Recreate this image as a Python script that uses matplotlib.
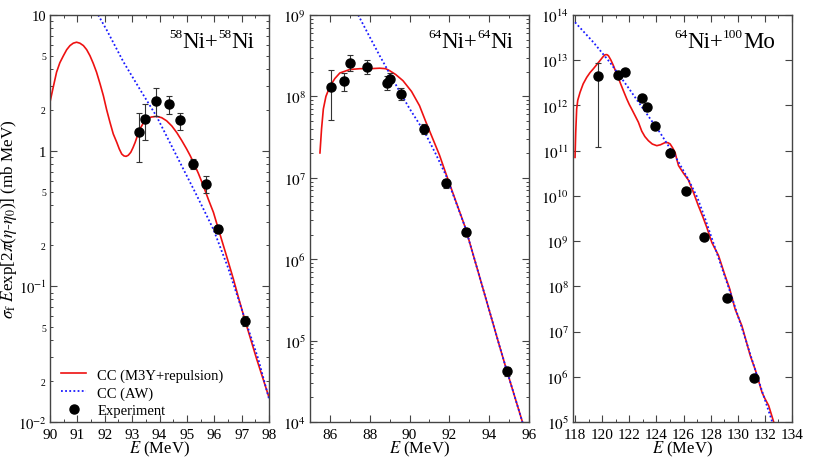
import numpy as np
import matplotlib
matplotlib.use("Agg")
import matplotlib.pyplot as plt
from matplotlib.lines import Line2D

plt.rcParams['font.family'] = ['Liberation Serif', 'DejaVu Serif']
plt.rcParams['mathtext.fontset'] = 'stix'

# ---------------- Panel 1: 58Ni+58Ni ----------------
p1_red_E = [90.0, 90.12, 90.24, 90.36, 90.49, 90.61, 90.73, 90.85, 90.97, 91.09, 91.22, 91.34,
            91.46, 91.58, 91.70, 91.83, 91.95, 92.07, 92.19, 92.31, 92.44, 92.53, 92.62, 92.70,
            92.78, 92.86, 92.95, 93.03, 93.11, 93.20, 93.29, 93.41, 93.53, 93.70, 93.90, 94.08,
            94.26, 94.45, 94.63, 94.81, 94.99, 95.12, 95.24, 95.42, 95.60, 95.78, 95.97, 96.15,
            96.42, 96.70, 96.90, 97.11, 97.33, 97.55, 97.78, 98.0]
p1_red_y = [2.28, 2.95, 3.79, 4.45, 5.01, 5.55, 5.95, 6.20, 6.30, 6.20, 5.95, 5.55,
            5.01, 4.40, 3.79, 3.10, 2.54, 2.00, 1.62, 1.33, 1.15, 1.03, 0.945, 0.915,
            0.908, 0.925, 0.972, 1.05, 1.15, 1.30, 1.45, 1.60, 1.71, 1.77, 1.79, 1.75,
            1.66, 1.52, 1.36, 1.19, 1.03, 0.92, 0.82, 0.68, 0.552, 0.44, 0.351, 0.265,
            0.175, 0.113, 0.0805, 0.0574, 0.0408, 0.0291, 0.0209, 0.0152]
p1_blue_E = [91.76, 92.07, 92.68, 93.29, 93.90, 94.63, 95.36, 95.97, 96.50, 97.12, 97.60, 98.0]
p1_blue_y = [10.0, 7.76, 4.52, 2.82, 1.78, 0.912, 0.468, 0.263, 0.138, 0.0575, 0.0295, 0.0148]
p1_exp_E = [93.26, 93.46, 93.87, 94.34, 94.76, 95.21, 95.69, 96.15, 97.11]
p1_exp_y = [1.38, 1.70, 2.31, 2.22, 1.67, 0.80, 0.57, 0.265, 0.0556]
p1_exp_lo = [0.82, 1.19, 1.79, 1.86, 1.42, 0.73, 0.485, 0.248, 0.0510]
p1_exp_hi = [1.88, 2.20, 2.88, 2.54, 1.90, 0.87, 0.65, 0.283, 0.0605]

# ---------------- Panel 2: 64Ni+64Ni ----------------
p2_red_E = [85.5, 85.58, 85.67, 85.8, 86.0, 86.25, 86.5, 87.0, 87.5, 88.0, 88.5, 88.8, 89.0,
            89.3, 89.67, 90.1, 90.5, 90.83, 91.5, 91.83, 92.8, 93.5, 94.5, 94.885, 95.67]
p2_red_y = [2.02e7, 3.98e7, 7.0e7, 1.0e8, 1.33e8, 1.66e8, 1.94e8, 2.14e8, 2.19e8, 2.19e8,
            2.22e8, 2.19e8, 2.07e8, 1.86e8, 1.56e8, 1.15e8, 7.69e7, 4.79e7, 1.91e7, 1.12e7,
            2.45e6, 6.3e5, 8.9e4, 4.27e4, 1.0e4]
p2_blue_E = [87.42, 88.0, 88.5, 89.0, 89.5, 90.0, 90.78, 91.3, 91.83, 92.8, 93.5, 94.5, 94.885, 95.67]
p2_blue_y = [1.0e9, 5.37e8, 3.16e8, 1.91e8, 1.15e8, 7.08e7, 3.55e7, 2.0e7, 1.07e7, 2.45e6,
             6.3e5, 8.9e4, 4.27e4, 1.0e4]
p2_exp_E = [86.03, 86.73, 87.02, 87.88, 88.87, 89.0, 89.57, 90.75, 91.83, 92.83, 94.885]
p2_exp_y = [1.29e8, 1.55e8, 2.55e8, 2.32e8, 1.45e8, 1.64e8, 1.07e8, 4.0e7, 8.6e6, 2.18e6, 4.2e4]
p2_exp_lo = [5.06e7, 1.17e8, 2.04e8, 1.88e8, 1.21e8, 1.48e8, 9.1e7, 3.47e7, 7.5e6, 1.95e6, 3.7e4]
p2_exp_hi = [2.13e8, 1.94e8, 3.2e8, 2.8e8, 1.77e8, 1.94e8, 1.26e8, 4.57e7, 9.8e6, 2.45e6, 4.7e4]

# ---------------- Panel 3: 64Ni+100Mo ----------------
p3_red_E = [118.0, 118.05, 118.12, 118.2, 118.37, 118.6, 118.86, 119.1, 119.35, 119.6, 119.84,
            120.05, 120.21, 120.35, 120.46, 120.65, 120.83, 121.07, 121.32, 121.57, 121.82,
            122.0, 122.18, 122.42, 122.67, 122.92, 123.15, 123.41, 123.7, 124.03, 124.3, 124.64,
            124.85, 125.01, 125.2, 125.38, 125.5, 125.63, 126.0, 126.36, 126.7, 127.1, 127.4,
            127.72, 128.09, 128.58, 129.07, 129.4, 129.81, 130.3, 130.6, 130.92, 131.3, 131.79,
            132.0, 132.28, 132.65]
p3_red_y = [7.1e10, 2.5e11, 8.3e11, 1.3e12, 1.95e12, 3.0e12, 4.17e12, 5.3e12, 6.46e12, 8.0e12,
            9.8e12, 1.18e13, 1.32e13, 1.33e13, 1.26e13, 1.0e13, 7.6e12, 5.0e12, 3.24e12, 2.1e12,
            1.38e12, 1.05e12, 8.3e11, 6.0e11, 4.27e11, 2.7e11, 2.05e11, 1.66e11, 1.4e11, 1.29e11,
            1.35e11, 1.51e11, 1.5e11, 1.41e11, 1.15e11, 9.1e10, 6.5e10, 4.68e10, 3.16e10, 2.24e10,
            1.26e10, 6.0e9, 3.6e9, 2.0e9, 9.3e8, 4.8e8, 1.7e8, 8.9e7, 3.1e7, 1.35e7, 6.5e6,
            2.95e6, 1.41e6, 4.5e5, 3.3e5, 2.3e5, 1.0e5]
p3_blue_E = [118.0, 119.35, 120.58, 121.82, 123.04, 124.27, 125.51, 126.36, 127.0, 127.6,
             128.5, 129.5, 130.5, 131.5, 132.6]
p3_blue_y = [6.9e13, 2.5e13, 8.9e12, 2.75e12, 8.3e11, 2.5e11, 6.5e10, 2.3e10, 9.5e9, 3.1e9,
             5.0e8, 6.6e7, 7.9e6, 8.9e5, 8.9e4]
p3_exp_E = [119.72, 121.2, 121.69, 122.92, 123.32, 123.88, 124.99, 126.17, 127.5, 129.2, 131.17]
p3_exp_y = [4.4e12, 4.6e12, 5.6e12, 1.48e12, 9.1e11, 3.6e11, 8.9e10, 1.28e10, 1.22e9, 5.5e7, 9.6e5]
p3_err_E = [119.72]
p3_err_y = [4.4e12]
p3_err_lo = [1.22e11]
p3_err_hi = [8.9e12]

# title pieces: (text, is_superscript)
titles = [[('58', True), ('Ni+', False), ('58', True), ('Ni', False)],
          [('64', True), ('Ni+', False), ('64', True), ('Ni', False)],
          [('64', True), ('Ni+', False), ('100', True), ('Mo', False)]]
legend_labels = ['CC (M3Y+repulsion)', 'CC (AW)', 'Experiment']

RED = '#ee1111'
BLUE = '#1a1aff'
FRAME = '#444444'

fig = plt.figure(figsize=(8.3, 4.6), dpi=100)
W, H = 830.0, 460.0
bottom = 37 / H
height = 407 / H
width = 219 / W
ax1 = fig.add_axes([50 / W, bottom, width, height])
ax2 = fig.add_axes([310 / W, bottom, width, height])
ax3 = fig.add_axes([573 / W, bottom, width, height])


def style(ax):
    ax.set_yscale('log')
    for s in ax.spines.values():
        s.set_color(FRAME)
        s.set_linewidth(1.0)
    ax.tick_params(which='both', direction='in', top=True, right=True, color=FRAME,
                   labelsize=11)
    ax.tick_params(axis='x', which='both', pad=4)
    ax.tick_params(axis='y', which='both', pad=3)
    ax.tick_params(which='major', length=5, width=0.8)
    ax.tick_params(which='minor', length=2.5, width=0.7)
    ax.set_xlabel(r'$E$ (MeV)', fontsize=12, labelpad=-1)


def errs(y, lo, hi):
    y = np.asarray(y)
    return [y - np.asarray(lo), np.asarray(hi) - y]


# Panel 1
style(ax1)
ax1.plot(p1_red_E, p1_red_y, color=RED, lw=1.2)
ax1.plot(p1_blue_E, p1_blue_y, color=BLUE, lw=1.3, ls=(0, (1, 1.3)))
ax1.errorbar(p1_exp_E, p1_exp_y, yerr=errs(p1_exp_y, p1_exp_lo, p1_exp_hi), fmt='o',
             color='black', ms=6.5, ecolor='#333333', elinewidth=0.8, capsize=2.5, capthick=0.8)
ax1.set_xlim(90, 98)
ax1.set_ylim(1e-2, 10)
ax1.set_xticks(np.arange(90, 99, 1))
ax1.set_xticks(np.arange(90.5, 98, 1), minor=True)
ax1.set_yticks([1e-2, 1e-1, 1, 10], [r'$10^{-2}$', r'$10^{-1}$', '1', '10'])
minor_pos, minor_lab = [], []
for dec in [1e-2, 1e-1, 1]:
    for m in range(2, 10):
        minor_pos.append(m * dec)
        minor_lab.append(str(m) if m in (2, 5) else '')
ax1.set_yticks(minor_pos, minor_lab, minor=True)
ax1.tick_params(axis='y', which='major', labelsize=10.5, pad=2.5)
ax1.tick_params(axis='y', which='minor', labelsize=7)
ax1.set_ylabel(r'$\sigma_{\rm f}$ $E$exp[2$\pi$($\eta$-$\eta_0$)] (mb MeV)', fontsize=12.3)
ax1.yaxis.set_label_coords(-0.143, 0.5)

handles = [Line2D([], [], color=RED, lw=1.2),
           Line2D([], [], color=BLUE, lw=1.3, ls=(0, (1, 1.3))),
           Line2D([], [], color='black', marker='o', ls='none', ms=6.5)]
ax1.legend(handles, legend_labels, loc='lower left', bbox_to_anchor=(0.05, 0.012),
           frameon=False, fontsize=10.5, handlelength=1.75, handletextpad=0.75,
           labelspacing=0.3, borderpad=0.0, borderaxespad=0.0)

# Panel 2
style(ax2)
ax2.plot(p2_red_E, p2_red_y, color=RED, lw=1.2)
ax2.plot(p2_blue_E, p2_blue_y, color=BLUE, lw=1.3, ls=(0, (1, 1.3)))
ax2.errorbar(p2_exp_E, p2_exp_y, yerr=errs(p2_exp_y, p2_exp_lo, p2_exp_hi), fmt='o',
             color='black', ms=6.5, ecolor='#333333', elinewidth=0.8, capsize=2.5, capthick=0.8)
ax2.set_xlim(85, 96)
ax2.set_ylim(1e4, 1e9)
ax2.set_xticks(np.arange(86, 97, 2))
ax2.set_xticks(np.arange(85, 97, 1), minor=True)
ax2.set_yticks([10.0 ** k for k in range(4, 10)], [r'$10^{%d}$' % k for k in range(4, 10)])

# Panel 3
style(ax3)
ax3.plot(p3_red_E, p3_red_y, color=RED, lw=1.2)
ax3.plot(p3_blue_E, p3_blue_y, color=BLUE, lw=1.3, ls=(0, (1, 1.3)))
ax3.errorbar(p3_err_E, p3_err_y, yerr=errs(p3_err_y, p3_err_lo, p3_err_hi), fmt='none',
             ecolor='#333333', elinewidth=0.8, capsize=2.5, capthick=0.8)
ax3.plot(p3_exp_E, p3_exp_y, 'o', color='black', ms=6.5)
ax3.set_xlim(117.85, 134)
ax3.set_ylim(1e5, 1e14)
ax3.set_xticks(np.arange(118, 135, 2))
ax3.set_xticks(np.arange(119, 134, 2), minor=True)
ax3.set_yticks([10.0 ** k for k in range(5, 15)], [r'$10^{%d}$' % k for k in range(5, 15)])

# Titles with small superscripts, placed piece by piece
fig.canvas.draw()
renderer = fig.canvas.get_renderer()
title_right_px = [254, 513, 775]
base_px = H - 48.5
for pieces, xr in zip(titles, title_right_px):
    objs = []
    for s, sup in pieces:
        t = fig.text(0, 0, s, fontsize=9.5 if sup else 16.5, ha='left', va='baseline')
        w = t.get_window_extent(renderer).width
        objs.append((t, w, sup))
    x = xr - sum(o[1] for o in objs)
    for t, w, sup in objs:
        t.set_position((x / W, (base_px + (10.5 if sup else 0)) / H))
        x += w

fig.savefig('out.png', dpi=100)
